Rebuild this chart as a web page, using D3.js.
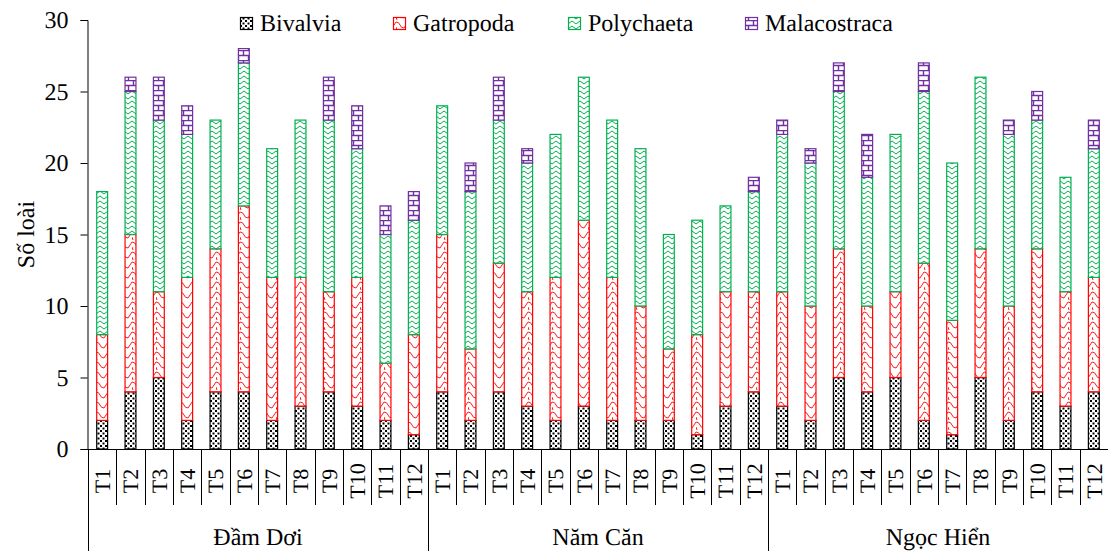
<!DOCTYPE html>
<html>
<head>
<meta charset="utf-8">
<script src="https://cdn.jsdelivr.net/npm/d3@7"></script>
<style>
  body { margin: 0; background: #fff; }
  svg text { font-family: "Times New Roman", "Liberation Serif", serif; fill: #000; text-rendering: geometricPrecision; }
</style>
</head>
<body>
<div id="chart"></div>
<script>
// data
const sites = ["Đầm Dơi", "Năm Căn", "Ngọc Hiển"];
const months = ["T1","T2","T3","T4","T5","T6","T7","T8","T9","T10","T11","T12"];
const series = ["Bivalvia", "Gatropoda", "Polychaeta", "Malacostraca"];

const bivalvia     = [2,4,5,2,4,4,2,3,4,3,2,1,  4,2,4,3,2,3,2,2,2,1,3,4,  3,2,5,4,5,2,1,5,2,4,3,4];
const gatropoda    = [6,11,6,10,10,13,10,9,7,9,4,7,  11,5,9,8,10,13,10,8,5,7,8,7,  8,8,9,6,6,11,8,9,8,10,8,8];
const polychaeta   = [10,10,12,10,9,10,9,11,12,9,9,8,  9,11,10,9,10,10,11,11,8,8,6,7,  11,10,11,9,11,12,11,12,12,9,8,9];
const malacostraca = [0,1,3,2,0,1,0,0,3,3,2,2,  0,2,3,1,0,0,0,0,0,0,0,1,  1,1,2,3,0,2,0,0,1,2,0,2];

const yTicks = [0,5,10,15,20,25,30];

const W = 1108, H = 551;
const FONT = '"Times New Roman", "Liberation Serif", serif';
const colors = ["#000000", "#FF0000", "#00B050", "#7030A0"];

const svg = d3.select("#chart").append("svg").attr("width", W).attr("height", H);

////// patterns
const defs = svg.append("defs");

// bivalvia: black dots
let p = defs.append("pattern").attr("id","pat0").attr("patternUnits","userSpaceOnUse")
  .attr("width",5).attr("height",5);
p.append("rect").attr("width",5).attr("height",5).attr("fill","#fff");
p.append("rect").attr("x",0).attr("y",0).attr("width",2).attr("height",2).attr("fill","#000");
p.append("rect").attr("x",2.5).attr("y",2.5).attr("width",2).attr("height",2).attr("fill","#000");

// gatropoda: red scales
p = defs.append("pattern").attr("id","pat1").attr("patternUnits","userSpaceOnUse")
  .attr("width",12).attr("height",10);
p.append("rect").attr("width",12).attr("height",10).attr("fill","#fff");
p.append("path").attr("d","M0,2 Q3,2 4,5 Q5,8 8,8 M8,8 Q10,5 12,2 M0,7 L1,10")
  .attr("fill","none").attr("stroke","#FF0000").attr("stroke-width",0.9);

// polychaeta: green zig zag
p = defs.append("pattern").attr("id","pat2").attr("patternUnits","userSpaceOnUse")
  .attr("width",8).attr("height",5);
p.append("rect").attr("width",8).attr("height",5).attr("fill","#fff");
p.append("path").attr("d","M0,4 L4,1 L8,4")
  .attr("fill","none").attr("stroke","#00B050").attr("stroke-width",1);

// malacostraca: purple bricks
p = defs.append("pattern").attr("id","pat3").attr("patternUnits","userSpaceOnUse")
  .attr("width",10).attr("height",10);
p.append("rect").attr("width",10).attr("height",10).attr("fill","#fff");
p.append("path").attr("d","M0,0.5 H10 M0,5.5 H10 M3.5,0.5 V5.5 M8.5,5.5 V10")
  .attr("fill","none").attr("stroke","#7030A0").attr("stroke-width",1.4);

////// scales
const idx = d3.range(sites.length * months.length);
const x = d3.scaleBand().domain(idx).range([88, 1108]).paddingInner(0.58).paddingOuter(0.29);
const y = d3.scaleLinear().domain([0, 30]).range([449, 20]);

const rows = idx.map(i => ({
  i: i,
  Bivalvia: bivalvia[i], Gatropoda: gatropoda[i],
  Polychaeta: polychaeta[i], Malacostraca: malacostraca[i]
}));
const stack = d3.stack().keys(series)(rows);

////// bars
stack.forEach((layer, k) => {
  svg.append("g").selectAll("rect")
    .data(layer.filter(d => d[1] > d[0]))
    .enter().append("rect")
    .attr("x", d => x(d.data.i) + 0.5)
    .attr("width", x.bandwidth() - 1)
    .attr("y", d => y(d[1]))
    .attr("height", d => y(d[0]) - y(d[1]))
    .attr("fill", "url(#pat" + k + ")")
    .attr("stroke", colors[k])
    .attr("stroke-width", 1.2);
});

////// y axis
const yAxis = svg.append("g").attr("transform", "translate(87.5,0)")
  .call(d3.axisLeft(y).tickValues(yTicks).tickSize(7).tickPadding(12));
yAxis.attr("font-family", FONT).attr("font-size", 24);
yAxis.select(".domain").attr("stroke", "#000");
yAxis.selectAll(".tick line").attr("stroke", "#000");
yAxis.selectAll("text").attr("font-family", FONT).attr("font-size", 24);

svg.append("text")
  .attr("transform", "translate(34," + y(15) + ") rotate(-90)")
  .attr("text-anchor", "middle")
  .attr("font-size", 24)
  .text("Số loài");

////// x axis (two level)
const gx = svg.append("g");
gx.append("line").attr("x1", 88).attr("x2", 1108).attr("y1", 449.5).attr("y2", 449.5).attr("stroke", "#000");

const step = x.step();
idx.forEach(i => {
  const xl = Math.round(88 + i * step) + 0.5;
  const isGroup = i % months.length === 0;
  gx.append("line").attr("x1", xl).attr("x2", xl)
    .attr("y1", 449).attr("y2", isGroup ? 551 : 505).attr("stroke", "#000");
});

gx.selectAll(".mlabel").data(idx).enter().append("text")
  .attr("class", "mlabel")
  .attr("transform", i => "translate(" + (x(i) + x.bandwidth() / 2) + ",481) rotate(-90)")
  .attr("dy", "0.35em")
  .attr("text-anchor", "middle")
  .attr("font-size", 22)
  .text(i => months[i % months.length]);

gx.selectAll(".slabel").data(sites).enter().append("text")
  .attr("x", (d, s) => 88 + (s + 0.5) * months.length * step)
  .attr("y", 545)
  .attr("text-anchor", "middle")
  .attr("font-size", 24)
  .text(d => d);

////// legend
const legX = [240, 393, 568, 745];
const leg = svg.append("g");
series.forEach((s, k) => {
  leg.append("rect").attr("x", legX[k] + 0.5).attr("y", 17.5).attr("width", 12).attr("height", 12)
    .attr("fill", "url(#pat" + k + ")").attr("stroke", colors[k]).attr("stroke-width", 1.2);
  leg.append("text").attr("x", legX[k] + 20).attr("y", 31)
    .attr("font-size", 24).text(s);
});
</script>
</body>
</html>
